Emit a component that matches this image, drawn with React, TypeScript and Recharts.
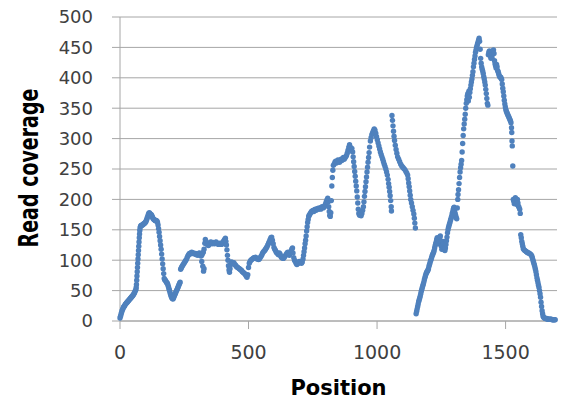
import React from 'react';
import { ScatterChart, Scatter, XAxis, YAxis, CartesianGrid, Label } from 'recharts';

const xTicks = [0, 500, 1000, 1500];
const yTicks = [0, 50, 100, 150, 200, 250, 300, 350, 400, 450, 500];

// [position, read coverage]
const segStart: [number, number][] = [
  [0,5],[2,8],[4,11],[6,14],[8,17],[10,19],[12,21],[14,23],[16,24],[18,25],[20,27],[22,28],[24,29],[26,30],[28,31],[30,32],[32,33],[34,34],[36,35],[38,36],[40,37],[42,38],[44,39],[46,40],[48,41],[50,42],[52,43],[54,45],[56,46],[58,48],[60,50],[62,52],[63,55],
  [64,60],[65,67],[66,74],[67,81],[68,88],[69,95],[70,102],[71,109],[72,116],[73,123],[74,130],[75,137],[76,143],[77,149],[78,153],[80,156],[82,157],[84,157],[86,158],[88,158],[90,159],[92,160],[94,160],[96,161],[98,162],[100,163],[102,165],[104,167],[106,170],[108,172],[110,175],[112,177],[114,178],[116,177],[118,176],[120,174],[122,175],[124,173],[126,171],[128,169],[130,168],[132,167],[134,166],[136,166],[138,165],[140,165],[142,165],[144,164],[146,162],
  [148,158],[150,152],[152,146],[154,139],[156,132],[158,125],[160,118],[162,110],[164,102],[166,94],[168,86],[170,78],[172,70],[174,68],[176,67],[178,66],[180,64],[182,63],[184,62],[186,60],[188,57],[190,54],[192,51],[194,48],[196,45],[198,42],[200,40],[202,38],[204,37],[206,36],[208,38],[210,40],[212,42],[214,44],[216,46],[218,48],[220,50],[222,52],[224,54],[226,56],[228,58],[230,60],[232,62],[234,64],
];

const segMid: [number, number][] = [
  [236,85],[238,87],[240,89],[243,91],[246,93],[249,95],[252,97],[255,99],[258,101],[261,104],[264,107],[267,109],[270,111],[273,110],[276,112],[279,113],[282,111],[285,112],[288,111],[291,110],[294,111],[297,109],[300,110],[303,108],[306,111],[309,112],[312,109],[315,107],[318,108],[321,111],[324,113],[327,118],[330,128],[332,134],[335,131],[338,127],[341,125],[344,124],[347,126],[350,128],[353,130],[356,129],[359,127],[362,129],[365,128],[368,127],[371,129],[374,130],[377,128],[380,127],[383,126],[386,127],[389,128],[392,127],[395,126],[398,128],[401,130],[404,132],[407,134],[410,136],
  [412,131],[414,125],[416,117],[418,108],[420,100],[422,91],[424,84],[426,80],[428,86],[431,93],[434,97],[437,96],[440,95],[443,96],[446,93],[449,92],[452,90],[455,89],[458,88],[461,87],[464,86],[467,85],[470,84],[473,83],[476,81],[479,80],[482,79],[485,78],[488,76],[491,74],[494,72],[497,76],[500,88],[503,95],[506,98],[509,100],[512,101],[515,102],[518,103],[521,104],[524,104],[527,105],[530,103],[533,102],[536,103],[539,101],[542,102],[545,104],[548,106],[551,108],[554,111],[557,113],[560,115],[563,116],[566,118],[569,120],[572,122],[575,125],[578,128],[581,131],[584,134],[587,137],[590,138],
  [593,133],[596,127],[599,121],[602,118],[605,116],[608,113],[611,112],[614,110],[617,109],[620,112],[623,110],[626,106],[629,104],[632,105],[635,103],[638,104],[641,106],[644,108],[647,110],[650,112],[653,113],[656,110],[659,108],[662,112],[665,115],[668,118],[671,120],[673,112],[676,104],[679,100],[682,98],[685,95],[688,93],[691,94],[694,96],[697,98],[700,97],[703,96],[706,95],[709,97],[712,102],[714,108],[716,114],[718,120],[720,127],[722,133],[724,140],[726,148],[728,155],[730,162],[732,167],[734,172],
];

const outliers: [number, number][] = [[318,98],[322,90],[325,82],[327,86]];

const segRise: [number, number][] = [
  [736,174],[739,176],[742,178],[745,180],[748,181],[751,182],[754,180],[757,183],[760,184],[763,182],[766,184],[769,185],[772,184],[775,186],[778,185],[781,184],[784,187],[787,188],[790,186],[793,187],[796,189],[799,192],[802,196],[805,199],[808,202],[810,196],[812,188],[814,180],[816,174],[818,172],[820,178],[822,198],[824,222],[826,236],[828,248],[830,256],
  [833,258],[836,261],[839,263],[842,260],[845,262],[848,265],[851,263],[854,261],[857,264],[860,266],[863,264],[866,267],[869,269],[872,266],[875,268],[878,270],[881,272],[884,276],[887,281],[890,286],[893,290],[896,286],[899,281],[902,284],[905,278],[907,270],[909,262],[911,254],[913,246],[915,238],[917,230],[919,222],[921,214],[923,204],[925,194],[927,184],[929,177],[932,174],[935,176],[938,173],[941,177],[944,182],[947,188],
  [949,196],[951,205],[953,213],[955,221],[957,229],[959,237],[961,245],[963,253],[965,261],[967,269],[969,277],[971,286],[974,296],[977,302],[980,307],[983,310],[986,313],[989,316],[992,314],[995,309],[998,303],[1001,298],[1004,293],[1007,288],[1010,283],[1013,278],[1016,274],[1019,270],[1022,266],[1025,262],[1028,258],[1031,254],[1034,250],[1037,245],[1040,240],[1043,233],[1045,226],[1047,220],[1049,213],[1051,206],[1053,198],[1055,188],[1056,181],
  [1058,338],[1060,330],[1062,321],[1064,312],[1066,304],[1068,297],[1071,289],[1074,282],[1077,276],[1080,270],[1084,266],[1088,262],[1092,258],[1096,255],[1100,253],[1104,251],[1108,249],[1112,246],[1116,243],[1119,240],[1121,234],[1123,227],[1125,221],[1127,214],[1129,207],[1131,200],[1134,194],[1137,188],[1140,182],[1143,176],[1145,169],[1147,161],[1149,153],
];

const segLast: [number, number][] = [
  [1152,12],[1154,16],[1156,20],[1158,24],[1160,28],[1162,32],[1164,35],[1166,38],[1168,41],[1170,45],[1172,49],[1174,52],[1176,55],[1178,58],[1180,61],[1182,64],[1184,68],[1186,71],[1188,74],[1190,77],[1192,79],[1194,81],[1196,82],[1198,84],[1200,86],[1202,90],[1204,93],[1206,96],[1208,99],[1210,101],[1212,104],[1214,107],[1216,109],[1218,111],[1220,113],[1222,116],[1224,120],[1226,124],[1228,127],[1230,130],[1232,134],[1234,137],[1236,133],[1238,130],[1240,127],[1242,132],[1244,137],[1246,140],[1248,131],[1250,123],[1252,118],[1254,125],[1256,131],[1258,127],[1260,121],[1262,117],[1264,116],[1266,120],[1268,126],[1270,132],[1272,138],[1274,145],[1276,150],[1278,154],[1280,157],[1282,160],[1284,163],[1286,166],[1288,169],[1290,172],[1292,176],[1294,179],[1296,183],[1298,186],[1300,187],[1302,182],[1304,177],[1306,173],[1308,170],[1310,168],
  [1312,186],[1314,200],[1315,208],[1317,216],[1319,226],[1321,236],[1323,245],[1325,252],[1327,258],[1329,264],[1331,278],[1333,292],[1335,305],[1337,316],[1339,324],[1341,332],[1343,340],[1345,350],[1347,358],[1349,364],[1351,370],[1353,374],[1355,362],[1357,378],[1359,368],[1361,376],[1363,382],[1365,388],[1367,393],[1369,398],[1371,404],[1373,410],[1375,418],[1377,424],[1379,430],[1381,436],[1383,442],[1385,446],[1387,450],[1389,453],[1391,456],[1393,459],[1395,462],[1397,465],
  [1399,460],[1401,447],[1403,432],[1405,424],[1407,418],[1409,414],[1411,411],[1413,407],[1415,402],[1417,398],[1419,393],[1421,388],[1423,381],[1425,374],[1427,366],[1429,358],[1431,355],
  [1433,438],[1435,442],[1437,444],[1439,440],[1441,436],[1443,432],[1445,438],[1447,434],[1449,440],[1451,444],[1453,446],[1455,440],[1457,428],[1459,423],[1461,420],[1463,416],[1465,422],[1467,418],[1469,412],[1471,410],[1473,407],[1475,404],[1477,402],[1479,401],[1481,401],[1483,399],[1485,397],[1487,390],[1489,383],[1491,377],[1493,370],[1495,363],[1497,357],[1499,352],[1501,348],[1503,345],[1505,343],[1507,341],[1509,339],[1511,337],[1513,335],[1515,333],[1517,331],[1519,329],[1521,326],[1523,318],[1524,310],[1525,296],[1526,288],[1528,255],
  [1530,200],[1532,197],[1534,193],[1536,197],[1538,203],[1540,199],[1542,192],[1544,195],[1546,200],[1548,194],[1550,189],[1552,187],[1555,184],[1557,177],[1559,142],[1561,137],[1563,131],[1565,127],[1567,123],[1569,119],[1572,117],[1575,116],[1578,115],[1581,114],[1584,113],[1587,112],[1590,112],[1593,111],[1596,110],[1599,109],[1602,107],[1604,104],[1606,101],[1608,98],[1610,95],[1612,92],[1614,89],[1616,85],[1618,81],[1620,76],[1622,71],[1624,67],[1626,63],[1628,59],[1630,55],[1632,50],[1634,45],[1636,39],[1638,31],[1640,24],[1642,17],[1644,12],[1646,8],[1648,6],[1651,5],[1654,4],[1657,4],[1660,4],[1663,3],[1666,3],[1669,3],[1672,3],[1675,3],[1678,3],[1681,2],[1684,2],[1687,2],[1690,2],[1693,2],
];

const data = [...segStart, ...segMid, ...outliers, ...segRise, ...segLast].map(([pos, cov]) => ({ pos, cov }));

const GRID = '#A6A6A6';
const DOT = '#4F81BD';
const FONT = '"DejaVu Sans", sans-serif';

const Dot = (props: any) => <circle cx={props.cx} cy={props.cy} r={2.7} fill={DOT} />;

const YTitle = (props: any) => {
  const vb = props.viewBox || { x: 8, y: 17, width: 112, height: 304 };
  const cx = 38;
  const cy = vb.y + vb.height / 2 - 1;
  return (
    <text
      transform={`translate(${cx},${cy}) rotate(-90) scale(1,1.4)`}
      textAnchor="middle"
      fontFamily={FONT}
      fontWeight="bold"
      fontSize={19}
      fill="#000"
    >
      Read coverage
    </text>
  );
};

export default function App() {
  return (
    <div style={{ position: 'absolute', left: 0, top: 0, width: 565, height: 409 }}>
      <ScatterChart width={565} height={409} margin={{ top: 17, right: 8, bottom: 0, left: 8 }}>
        <CartesianGrid horizontal={true} vertical={false} stroke={GRID} strokeWidth={1} />
        <XAxis
          type="number"
          dataKey="pos"
          domain={[0, 1700]}
          ticks={xTicks}
          height={88}
          tickSize={8}
          tickMargin={17}
          axisLine={{ stroke: GRID }}
          tickLine={{ stroke: GRID }}
          tick={{ fill: '#404040', fontSize: 19, fontFamily: FONT }}
          interval={0}
        >
          <Label value="Position" position="insideBottom" offset={14} fill="#000" fontSize={21} fontWeight="bold" fontFamily={FONT} />
        </XAxis>
        <YAxis
          type="number"
          dataKey="cov"
          domain={[0, 500]}
          ticks={yTicks}
          width={112}
          tickSize={8}
          tickMargin={19}
          axisLine={{ stroke: GRID }}
          tickLine={{ stroke: GRID }}
          tick={{ fill: '#404040', fontSize: 18, fontFamily: FONT }}
          interval={0}
        >
          <Label content={YTitle} />
        </YAxis>
        <Scatter data={data} shape={Dot} isAnimationActive={false} />
      </ScatterChart>
    </div>
  );
}
